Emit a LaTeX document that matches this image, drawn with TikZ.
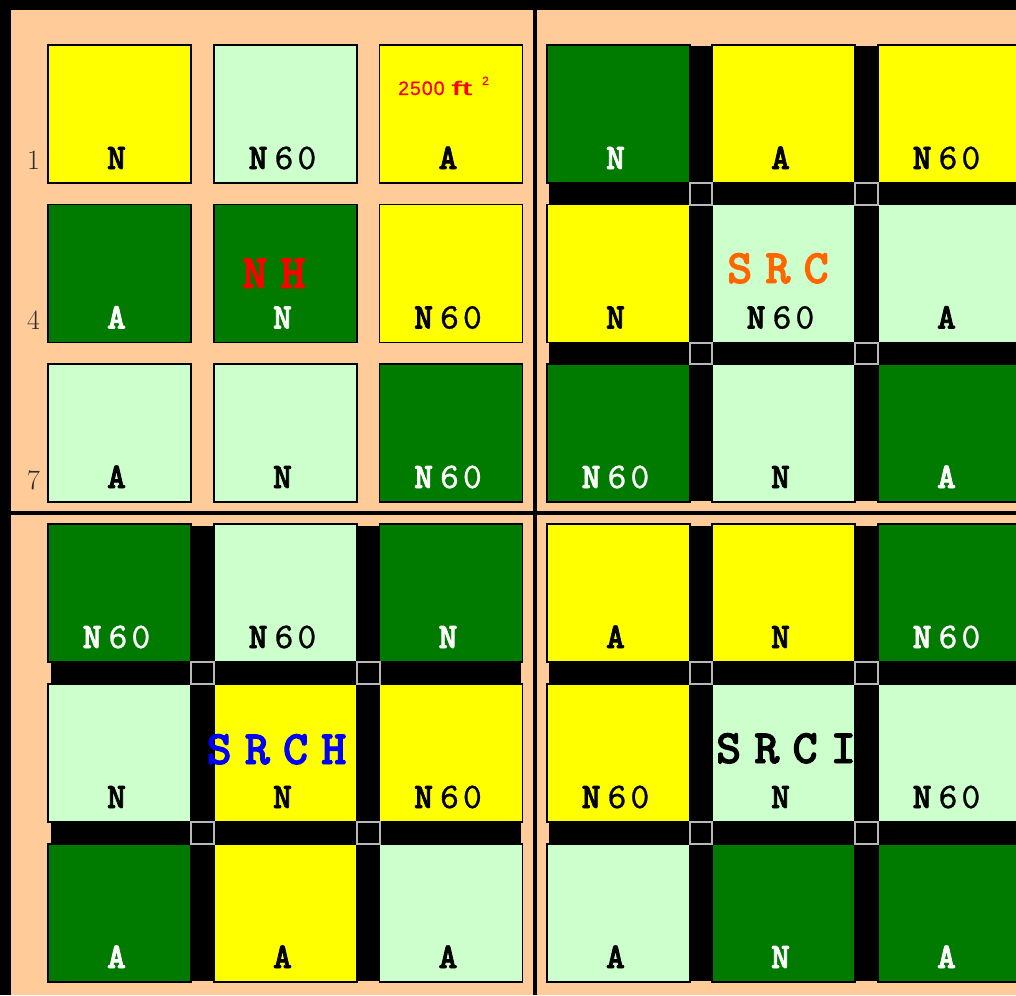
\documentclass[tikz,border=0pt]{standalone}
\usepackage{fontspec}
\newfontfamily\boldtt{lmmonolt10-bold.otf}[FakeBold=2]
\newfontfamily\regtt{lmmono10-regular.otf}[FakeBold=0.8]
\newfontfamily\areafont{Liberation Sans}[FakeBold=0.6]
\definecolor{peach}{HTML}{FFCC99}
\definecolor{dgreen}{HTML}{007B00}
\definecolor{lgreen}{HTML}{CCFFCC}
\definecolor{lyellow}{HTML}{FFFF00}
\definecolor{srcorange}{HTML}{FF6600}
\definecolor{jgray}{HTML}{B8B8B8}
\definecolor{rowgray}{HTML}{2A2A2A}
\tikzset{
  lotbox/.style={draw=black, line width=1.8pt, minimum width=143pt, minimum height=138pt,
    anchor=north west, inner sep=0pt, outer sep=0pt},
  lotlab/.style={inner sep=0pt, anchor=base, font=\fontsize{36}{36}\selectfont\boldtt},
  biglab/.style={inner sep=0pt, anchor=base, font=\fontsize{48}{48}\selectfont\boldtt},
  rowlab/.style={inner sep=0pt, anchor=base, text=rowgray, font=\fontsize{28}{28}\selectfont},
  road/.style={fill=black},
  junction/.style={draw=jgray, line width=2pt},
}
\newcommand\Nsix{N\kern7pt{\regtt 6\kern4pt 0}}
\newcommand\gp{\kern13pt}
% name, x, y, fill, label, text colour
\newcommand\lot[6]{%
  \node[lotbox, fill=#4] (#1) at (#2,#3) {};
  \node[lotlab, text=#6] (#1-lab) at ([xshift=-3pt,yshift=14pt]#1.south) {#5};
}
\begin{document}
\begin{tikzpicture}[x=1pt,y=-1pt]
\useasboundingbox (0,0) rectangle (1016,995);
\clip (0,0) rectangle (1016,995);
\fill[peach] (0,0) rectangle (1016,995);
% frame and quadrant dividers
\fill[black] (0,0) rectangle (1016,10);
\fill[black] (0,0) rectangle (11,995);
\fill[black] (532.5,10) rectangle (536.5,995);
\fill[black] (11,511) rectangle (1016,515);
% roads
\fill[road] (549,46.5) rectangle (1020,500.5);
\fill[road] (50.5,525.5) rectangle (520.5,980.5);
\fill[road] (549,525.5) rectangle (1020,980.5);
% top-left quadrant
\lot{a11}{48}{45}{lyellow}{N}{black}
\lot{a12}{214}{45}{lgreen}{\Nsix}{black}
\lot{a13}{379.5}{45}{lyellow}{A}{black}
\lot{a21}{48}{204.5}{dgreen}{A}{white}
\lot{a22}{214}{204.5}{dgreen}{N}{white}
\lot{a23}{379.5}{204.5}{lyellow}{\Nsix}{black}
\lot{a31}{48}{364}{lgreen}{A}{black}
\lot{a32}{214}{364}{lgreen}{N}{black}
\lot{a33}{379.5}{364}{dgreen}{\Nsix}{white}
% top-right quadrant
\lot{b11}{547}{45}{dgreen}{N}{white}
\lot{b12}{712}{45}{lyellow}{A}{black}
\lot{b13}{878}{45}{lyellow}{\Nsix}{black}
\lot{b21}{547}{204.5}{lyellow}{N}{black}
\lot{b22}{712}{204.5}{lgreen}{\Nsix}{black}
\lot{b23}{878}{204.5}{lgreen}{A}{black}
\lot{b31}{547}{364}{dgreen}{\Nsix}{white}
\lot{b32}{712}{364}{lgreen}{N}{black}
\lot{b33}{878}{364}{dgreen}{A}{white}
% bottom-left quadrant
\lot{c11}{48}{524}{dgreen}{\Nsix}{white}
\lot{c12}{214}{524}{lgreen}{\Nsix}{black}
\lot{c13}{379.5}{524}{dgreen}{N}{white}
\lot{c21}{48}{684}{lgreen}{N}{black}
\lot{c22}{214}{684}{lyellow}{N}{black}
\lot{c23}{379.5}{684}{lyellow}{\Nsix}{black}
\lot{c31}{48}{844}{dgreen}{A}{white}
\lot{c32}{214}{844}{lyellow}{A}{black}
\lot{c33}{379.5}{844}{lgreen}{A}{black}
% bottom-right quadrant
\lot{d11}{547}{524}{lyellow}{A}{black}
\lot{d12}{712}{524}{lyellow}{N}{black}
\lot{d13}{878}{524}{dgreen}{\Nsix}{white}
\lot{d21}{547}{684}{lyellow}{\Nsix}{black}
\lot{d22}{712}{684}{lgreen}{N}{black}
\lot{d23}{878}{684}{lgreen}{\Nsix}{black}
\lot{d31}{547}{844}{lgreen}{A}{black}
\lot{d32}{712}{844}{dgreen}{N}{white}
\lot{d33}{878}{844}{dgreen}{A}{white}
% junctions
\foreach \q in {b,c,d}{
  \draw[junction] (\q11.south east) rectangle (\q22.north west);
  \draw[junction] (\q12.south east) rectangle (\q23.north west);
  \draw[junction] (\q21.south east) rectangle (\q32.north west);
  \draw[junction] (\q22.south east) rectangle (\q33.north west);
}
% row numbers
\node[rowlab] (row1) at (33.5,170) {1};
\node[rowlab] (row4) at (33.5,329) {4};
\node[rowlab] (row7) at (33.5,489) {7};
% area note
\node[inner sep=0pt, anchor=base west, text=red, font=\fontsize{19.5}{19.5}\selectfont\areafont] (area) at (398,95)
  {2\kern1pt 5\kern1pt 0\kern1pt 0\kern7pt\scalebox{1.9}[1]{ft}\kern10pt\raisebox{10pt}{\fontsize{12}{12}\selectfont 2}};
% big labels
\node[biglab, text=red] (nh) at ([xshift=-11.5pt,yshift=-83.5pt]a22.north) {N\gp H};
\node[biglab, text=srcorange] (src) at ([xshift=-5.5pt,yshift=-78.5pt]b22.north) {S\gp R\gp C};
\node[biglab, text=blue] (srch) at ([xshift=-9pt,yshift=-80pt]c22.north) {S\gp R\gp C\gp H};
\node[biglab, text=black] (srci) at ([xshift=2.5pt,yshift=-79pt]d22.north) {S\gp R\gp C\gp I};
\end{tikzpicture}
\end{document}
